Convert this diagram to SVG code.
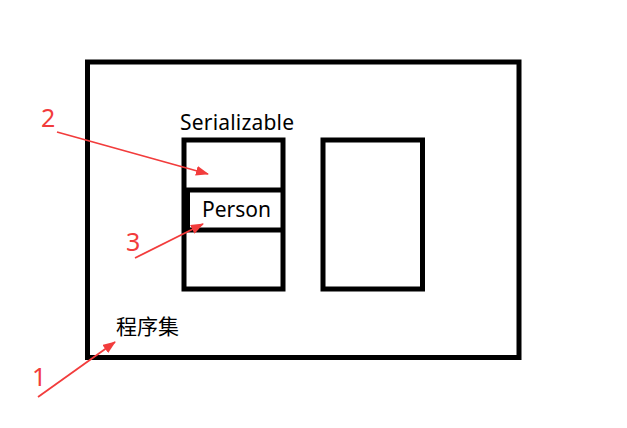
<svg xmlns="http://www.w3.org/2000/svg" width="627" height="428" viewBox="0 0 627 428">
<style>
.box{fill:#fff;stroke:#000;stroke-width:5}
.lbl{font-family:"Noto Sans","Noto Sans CJK SC",sans-serif;font-size:21px;fill:#000}
.num{font-family:"Noto Sans",sans-serif;font-size:25px;fill:#f23c3c}
.arr{stroke:#f23c3c;stroke-width:1.8;fill:none;marker-end:url(#ah)}
</style>
<defs>
<marker id="ah" markerUnits="userSpaceOnUse" markerWidth="13" markerHeight="10" refX="12" refY="5" orient="auto">
<path d="M0,0 L13,5 L0,10 z" fill="#f23c3c"/>
</marker>
</defs>
<rect width="627" height="428" fill="#fff"/>
<g id="assembly">
<rect class="box" x="87.5" y="62" width="431.5" height="295.5"/>
<text class="lbl" x="116" y="334">程序集</text>
</g>
<g id="serializable">
<rect class="box" x="184" y="140" width="99" height="149"/>
<line x1="184" y1="190" x2="283" y2="190" stroke="#000" stroke-width="5"/>
<line x1="184" y1="230" x2="283" y2="230" stroke="#000" stroke-width="5"/>
<rect x="182" y="188" width="8" height="44" fill="#000"/>
<text class="lbl" x="180" y="130" textLength="114">Serializable</text>
</g>
<g id="person">
<text class="lbl" x="202" y="217">Person</text>
</g>
<g id="other">
<rect class="box" x="323" y="140" width="99.5" height="149"/>
</g>
<g id="connectors">
<line class="arr" x1="38" y1="397" x2="115" y2="342"/>
<line class="arr" x1="57" y1="132" x2="208" y2="174"/>
<line class="arr" x1="135" y1="258" x2="203" y2="224"/>
</g>
<g id="labels">
<text class="num" x="32" y="386">1</text>
<text class="num" x="41" y="127">2</text>
<text class="num" x="126" y="251">3</text>
</g>
</svg>
